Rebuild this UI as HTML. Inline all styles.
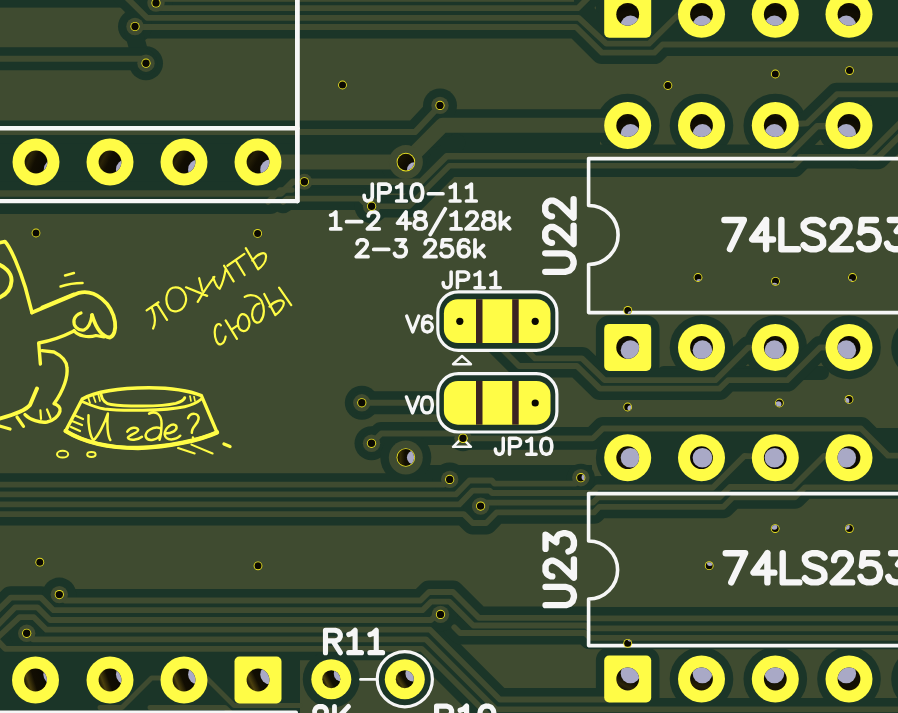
<!DOCTYPE html>
<html><head><meta charset="utf-8"><title>PCB</title>
<style>html,body{margin:0;padding:0;background:#3f4b30;overflow:hidden}svg{display:block}text{font-family:"Liberation Sans",sans-serif}</style>
</head><body>
<svg width="898" height="713" viewBox="0 0 898 713">
<defs><clipPath id="h1"><circle cx="36" cy="162" r="11.4"/></clipPath><linearGradient id="g1" gradientUnits="userSpaceOnUse" x1="46.5089" y1="166.419" x2="25.4911" y2="157.581"><stop offset="0" stop-color="#0b0902"/><stop offset="0.55" stop-color="#120e02"/><stop offset="0.82" stop-color="#2c2508"/><stop offset="1" stop-color="#181303"/></linearGradient><clipPath id="h2"><circle cx="110" cy="162" r="11.4"/></clipPath><linearGradient id="g2" gradientUnits="userSpaceOnUse" x1="120.318" y1="166.848" x2="99.6821" y2="157.152"><stop offset="0" stop-color="#0b0902"/><stop offset="0.55" stop-color="#120e02"/><stop offset="0.82" stop-color="#2a2307"/><stop offset="1" stop-color="#181303"/></linearGradient><clipPath id="h3"><circle cx="184" cy="162" r="11.4"/></clipPath><linearGradient id="g3" gradientUnits="userSpaceOnUse" x1="194.063" y1="167.357" x2="173.937" y2="156.643"><stop offset="0" stop-color="#0b0902"/><stop offset="0.55" stop-color="#120e02"/><stop offset="0.82" stop-color="#272107"/><stop offset="1" stop-color="#181303"/></linearGradient><clipPath id="h4"><circle cx="258" cy="162" r="11.4"/></clipPath><linearGradient id="g4" gradientUnits="userSpaceOnUse" x1="267.714" y1="167.966" x2="248.286" y2="156.034"><stop offset="0" stop-color="#0b0902"/><stop offset="0.55" stop-color="#120e02"/><stop offset="0.82" stop-color="#231d06"/><stop offset="1" stop-color="#181303"/></linearGradient><clipPath id="h5"><circle cx="35.5" cy="680" r="11.4"/></clipPath><linearGradient id="g5" gradientUnits="userSpaceOnUse" x1="46.3729" y1="676.574" x2="24.6271" y2="683.426"><stop offset="0" stop-color="#0b0902"/><stop offset="0.55" stop-color="#120e02"/><stop offset="0.82" stop-color="#4a3e0d"/><stop offset="1" stop-color="#181303"/></linearGradient><clipPath id="h6"><circle cx="110" cy="680" r="11.4"/></clipPath><linearGradient id="g6" gradientUnits="userSpaceOnUse" x1="120.752" y1="676.211" x2="99.248" y2="683.789"><stop offset="0" stop-color="#0b0902"/><stop offset="0.55" stop-color="#120e02"/><stop offset="0.82" stop-color="#4a3f0d"/><stop offset="1" stop-color="#181303"/></linearGradient><clipPath id="h7"><circle cx="184" cy="680" r="11.4"/></clipPath><linearGradient id="g7" gradientUnits="userSpaceOnUse" x1="194.587" y1="675.773" x2="173.413" y2="684.227"><stop offset="0" stop-color="#0b0902"/><stop offset="0.55" stop-color="#120e02"/><stop offset="0.82" stop-color="#4b400d"/><stop offset="1" stop-color="#181303"/></linearGradient><clipPath id="h8"><circle cx="258" cy="680" r="11.4"/></clipPath><linearGradient id="g8" gradientUnits="userSpaceOnUse" x1="268.355" y1="675.231" x2="247.645" y2="684.769"><stop offset="0" stop-color="#0b0902"/><stop offset="0.55" stop-color="#120e02"/><stop offset="0.82" stop-color="#4c400d"/><stop offset="1" stop-color="#181303"/></linearGradient><clipPath id="h9"><circle cx="627.7" cy="14.3" r="11.4"/></clipPath><linearGradient id="g9" gradientUnits="userSpaceOnUse" x1="630.497" y1="25.3515" x2="624.903" y2="3.24848"><stop offset="0" stop-color="#0b0902"/><stop offset="0.55" stop-color="#120e02"/><stop offset="0.82" stop-color="#0b0902"/><stop offset="1" stop-color="#181303"/></linearGradient><clipPath id="h10"><circle cx="701.5" cy="14.3" r="11.4"/></clipPath><linearGradient id="g10" gradientUnits="userSpaceOnUse" x1="702.485" y1="25.6573" x2="700.515" y2="2.94267"><stop offset="0" stop-color="#0b0902"/><stop offset="0.55" stop-color="#120e02"/><stop offset="0.82" stop-color="#0b0902"/><stop offset="1" stop-color="#181303"/></linearGradient><clipPath id="h11"><circle cx="775.3" cy="14.3" r="11.4"/></clipPath><linearGradient id="g11" gradientUnits="userSpaceOnUse" x1="774.396" y1="25.6641" x2="776.204" y2="2.93591"><stop offset="0" stop-color="#0b0902"/><stop offset="0.55" stop-color="#120e02"/><stop offset="0.82" stop-color="#0b0902"/><stop offset="1" stop-color="#181303"/></linearGradient><clipPath id="h12"><circle cx="849" cy="14.3" r="11.4"/></clipPath><linearGradient id="g12" gradientUnits="userSpaceOnUse" x1="846.28" y1="25.3708" x2="851.72" y2="3.22917"><stop offset="0" stop-color="#0b0902"/><stop offset="0.55" stop-color="#120e02"/><stop offset="0.82" stop-color="#0b0902"/><stop offset="1" stop-color="#181303"/></linearGradient><clipPath id="h13"><circle cx="627.7" cy="125.5" r="11.4"/></clipPath><linearGradient id="g13" gradientUnits="userSpaceOnUse" x1="631.348" y1="136.301" x2="624.052" y2="114.699"><stop offset="0" stop-color="#0b0902"/><stop offset="0.55" stop-color="#120e02"/><stop offset="0.82" stop-color="#0b0902"/><stop offset="1" stop-color="#181303"/></linearGradient><clipPath id="h14"><circle cx="701.5" cy="125.5" r="11.4"/></clipPath><linearGradient id="g14" gradientUnits="userSpaceOnUse" x1="702.811" y1="136.824" x2="700.189" y2="114.176"><stop offset="0" stop-color="#0b0902"/><stop offset="0.55" stop-color="#120e02"/><stop offset="0.82" stop-color="#0b0902"/><stop offset="1" stop-color="#181303"/></linearGradient><clipPath id="h15"><circle cx="775.3" cy="125.5" r="11.4"/></clipPath><linearGradient id="g15" gradientUnits="userSpaceOnUse" x1="774.096" y1="136.836" x2="776.504" y2="114.164"><stop offset="0" stop-color="#0b0902"/><stop offset="0.55" stop-color="#120e02"/><stop offset="0.82" stop-color="#0b0902"/><stop offset="1" stop-color="#181303"/></linearGradient><clipPath id="h16"><circle cx="849" cy="125.5" r="11.4"/></clipPath><linearGradient id="g16" gradientUnits="userSpaceOnUse" x1="845.449" y1="136.333" x2="852.551" y2="114.667"><stop offset="0" stop-color="#0b0902"/><stop offset="0.55" stop-color="#120e02"/><stop offset="0.82" stop-color="#0b0902"/><stop offset="1" stop-color="#181303"/></linearGradient><clipPath id="h17"><circle cx="627.7" cy="347.4" r="11.4"/></clipPath><linearGradient id="g17" gradientUnits="userSpaceOnUse" x1="635.822" y1="355.399" x2="619.578" y2="339.401"><stop offset="0" stop-color="#0b0902"/><stop offset="0.55" stop-color="#120e02"/><stop offset="0.82" stop-color="#0e0c02"/><stop offset="1" stop-color="#181303"/></linearGradient><clipPath id="h18"><circle cx="701.5" cy="347.4" r="11.4"/></clipPath><linearGradient id="g18" gradientUnits="userSpaceOnUse" x1="705.248" y1="358.166" x2="697.752" y2="336.634"><stop offset="0" stop-color="#0b0902"/><stop offset="0.55" stop-color="#120e02"/><stop offset="0.82" stop-color="#0b0902"/><stop offset="1" stop-color="#181303"/></linearGradient><clipPath id="h19"><circle cx="775.3" cy="347.4" r="11.4"/></clipPath><linearGradient id="g19" gradientUnits="userSpaceOnUse" x1="771.834" y1="358.26" x2="778.766" y2="336.54"><stop offset="0" stop-color="#0b0902"/><stop offset="0.55" stop-color="#120e02"/><stop offset="0.82" stop-color="#0b0902"/><stop offset="1" stop-color="#181303"/></linearGradient><clipPath id="h20"><circle cx="849" cy="347.4" r="11.4"/></clipPath><linearGradient id="g20" gradientUnits="userSpaceOnUse" x1="840.998" y1="355.52" x2="857.002" y2="339.28"><stop offset="0" stop-color="#0b0902"/><stop offset="0.55" stop-color="#120e02"/><stop offset="0.82" stop-color="#0b0902"/><stop offset="1" stop-color="#181303"/></linearGradient><clipPath id="h21"><circle cx="627.7" cy="457.7" r="11.4"/></clipPath><linearGradient id="g21" gradientUnits="userSpaceOnUse" x1="639.1" y1="457.73" x2="616.3" y2="457.67"><stop offset="0" stop-color="#0b0902"/><stop offset="0.55" stop-color="#120e02"/><stop offset="0.82" stop-color="#181404"/><stop offset="1" stop-color="#181303"/></linearGradient><clipPath id="h22"><circle cx="701.5" cy="457.7" r="11.4"/></clipPath><clipPath id="h23"><circle cx="775.3" cy="457.7" r="11.4"/></clipPath><clipPath id="h24"><circle cx="849" cy="457.7" r="11.4"/></clipPath><linearGradient id="g24" gradientUnits="userSpaceOnUse" x1="837.6" y1="457.731" x2="860.4" y2="457.669"><stop offset="0" stop-color="#0b0902"/><stop offset="0.55" stop-color="#120e02"/><stop offset="0.82" stop-color="#0b0902"/><stop offset="1" stop-color="#181303"/></linearGradient><clipPath id="h25"><circle cx="627.7" cy="679" r="11.4"/></clipPath><linearGradient id="g25" gradientUnits="userSpaceOnUse" x1="632.864" y1="668.837" x2="622.536" y2="689.163"><stop offset="0" stop-color="#0b0902"/><stop offset="0.55" stop-color="#120e02"/><stop offset="0.82" stop-color="#2c2508"/><stop offset="1" stop-color="#181303"/></linearGradient><clipPath id="h26"><circle cx="701.5" cy="679" r="11.4"/></clipPath><linearGradient id="g26" gradientUnits="userSpaceOnUse" x1="703.457" y1="667.769" x2="699.543" y2="690.231"><stop offset="0" stop-color="#0b0902"/><stop offset="0.55" stop-color="#120e02"/><stop offset="0.82" stop-color="#231e06"/><stop offset="1" stop-color="#181303"/></linearGradient><clipPath id="h27"><circle cx="775.3" cy="679" r="11.4"/></clipPath><linearGradient id="g27" gradientUnits="userSpaceOnUse" x1="773.502" y1="667.743" x2="777.098" y2="690.257"><stop offset="0" stop-color="#0b0902"/><stop offset="0.55" stop-color="#120e02"/><stop offset="0.82" stop-color="#1a1604"/><stop offset="1" stop-color="#181303"/></linearGradient><clipPath id="h28"><circle cx="849" cy="679" r="11.4"/></clipPath><linearGradient id="g28" gradientUnits="userSpaceOnUse" x1="843.957" y1="668.776" x2="854.043" y2="689.224"><stop offset="0" stop-color="#0b0902"/><stop offset="0.55" stop-color="#120e02"/><stop offset="0.82" stop-color="#110e03"/><stop offset="1" stop-color="#181303"/></linearGradient><clipPath id="h29"><circle cx="156" cy="3" r="3.7"/></clipPath><clipPath id="h30"><circle cx="135" cy="26.5" r="3.7"/></clipPath><clipPath id="h31"><circle cx="146" cy="63.2" r="3.7"/></clipPath><clipPath id="h32"><circle cx="405.9" cy="162.1" r="8.4"/></clipPath><linearGradient id="g32" gradientUnits="userSpaceOnUse" x1="412.188" y1="167.669" x2="399.612" y2="156.531"><stop offset="0" stop-color="#0b0902"/><stop offset="0.55" stop-color="#120e02"/><stop offset="0.82" stop-color="#181404"/><stop offset="1" stop-color="#181303"/></linearGradient><clipPath id="h33"><circle cx="440" cy="105.4" r="3.7"/></clipPath><clipPath id="h34"><circle cx="304.4" cy="181.8" r="3.7"/></clipPath><clipPath id="h35"><circle cx="371.6" cy="206.2" r="3.7"/></clipPath><clipPath id="h36"><circle cx="449.7" cy="479.4" r="3.7"/></clipPath><clipPath id="h37"><circle cx="480.6" cy="506.1" r="3.7"/></clipPath><clipPath id="h38"><circle cx="59.3" cy="594.6" r="3.7"/></clipPath><clipPath id="h39"><circle cx="26.7" cy="633.3" r="3.7"/></clipPath><clipPath id="h40"><circle cx="440.5" cy="614.4" r="3.7"/></clipPath><clipPath id="h41"><circle cx="361.8" cy="402.8" r="3.7"/></clipPath><clipPath id="h42"><circle cx="371.5" cy="443.3" r="3.7"/></clipPath><clipPath id="h43"><circle cx="463" cy="438.3" r="3.7"/></clipPath><clipPath id="h44"><circle cx="405.8" cy="457.5" r="8.4"/></clipPath><linearGradient id="g44" gradientUnits="userSpaceOnUse" x1="414.2" y1="457.513" x2="397.4" y2="457.487"><stop offset="0" stop-color="#0b0902"/><stop offset="0.55" stop-color="#120e02"/><stop offset="0.82" stop-color="#332b09"/><stop offset="1" stop-color="#181303"/></linearGradient><clipPath id="h45"><circle cx="580.8" cy="477.7" r="3.7"/></clipPath><clipPath id="h46"><circle cx="36" cy="233" r="3.5"/></clipPath><clipPath id="h47"><circle cx="257.6" cy="233.4" r="3.5"/></clipPath><clipPath id="h48"><circle cx="342.5" cy="85" r="3.5"/></clipPath><clipPath id="h49"><circle cx="667.9" cy="85.5" r="3.5"/></clipPath><clipPath id="h50"><circle cx="775.3" cy="74" r="3.5"/></clipPath><clipPath id="h51"><circle cx="849.5" cy="70.6" r="3.5"/></clipPath><clipPath id="h52"><circle cx="698" cy="277.5" r="3.5"/></clipPath><clipPath id="h53"><circle cx="775.5" cy="281.3" r="3.5"/></clipPath><clipPath id="h54"><circle cx="852.5" cy="277.5" r="3.5"/></clipPath><clipPath id="h55"><circle cx="627.8" cy="310.4" r="3.5"/></clipPath><clipPath id="h56"><circle cx="627.7" cy="407" r="3.5"/></clipPath><clipPath id="h57"><circle cx="779.4" cy="403" r="3.5"/></clipPath><clipPath id="h58"><circle cx="849" cy="399.4" r="3.5"/></clipPath><clipPath id="h59"><circle cx="39.8" cy="562.2" r="3.5"/></clipPath><clipPath id="h60"><circle cx="258" cy="565.8" r="3.5"/></clipPath><clipPath id="h61"><circle cx="627.7" cy="643.3" r="3.5"/></clipPath><clipPath id="h62"><circle cx="709.2" cy="565.7" r="3.5"/></clipPath><clipPath id="h63"><circle cx="775.2" cy="528.6" r="3.5"/></clipPath><clipPath id="h64"><circle cx="849.4" cy="528.6" r="3.5"/></clipPath><clipPath id="h65"><circle cx="331.3" cy="679.2" r="9"/></clipPath><linearGradient id="g65" gradientUnits="userSpaceOnUse" x1="339.215" y1="674.916" x2="323.385" y2="683.484"><stop offset="0" stop-color="#0b0902"/><stop offset="0.55" stop-color="#120e02"/><stop offset="0.82" stop-color="#4d410d"/><stop offset="1" stop-color="#181303"/></linearGradient><clipPath id="h66"><circle cx="404.8" cy="679.2" r="9"/></clipPath><linearGradient id="g66" gradientUnits="userSpaceOnUse" x1="412.312" y1="674.243" x2="397.288" y2="684.157"><stop offset="0" stop-color="#0b0902"/><stop offset="0.55" stop-color="#120e02"/><stop offset="0.82" stop-color="#483c0c"/><stop offset="1" stop-color="#181303"/></linearGradient></defs>
<rect width="898" height="713" fill="#3f4b30"/>
<g fill="none" stroke="#1b3528" stroke-linecap="round" stroke-linejoin="round">
<circle cx="36" cy="162" r="31.8" fill="#1b3528" stroke="none"/>
<circle cx="110" cy="162" r="31.8" fill="#1b3528" stroke="none"/>
<circle cx="184" cy="162" r="31.8" fill="#1b3528" stroke="none"/>
<circle cx="258" cy="162" r="31.8" fill="#1b3528" stroke="none"/>
<circle cx="35.5" cy="680" r="31.8" fill="#1b3528" stroke="none"/>
<circle cx="110" cy="680" r="31.8" fill="#1b3528" stroke="none"/>
<circle cx="184" cy="680" r="31.8" fill="#1b3528" stroke="none"/>
<rect x="226.2" y="648.2" width="63.6" height="63.6" rx="13.3" fill="#1b3528" stroke="none"/>
<rect x="595.9" y="-17.5" width="63.6" height="63.6" rx="13.3" fill="#1b3528" stroke="none"/>
<circle cx="701.5" cy="14.3" r="31.8" fill="#1b3528" stroke="none"/>
<circle cx="775.3" cy="14.3" r="31.8" fill="#1b3528" stroke="none"/>
<circle cx="849" cy="14.3" r="31.8" fill="#1b3528" stroke="none"/>
<circle cx="923" cy="14.3" r="31.8" fill="#1b3528" stroke="none"/>
<circle cx="627.7" cy="125.5" r="31.8" fill="#1b3528" stroke="none"/>
<circle cx="701.5" cy="125.5" r="31.8" fill="#1b3528" stroke="none"/>
<circle cx="775.3" cy="125.5" r="31.8" fill="#1b3528" stroke="none"/>
<circle cx="849" cy="125.5" r="31.8" fill="#1b3528" stroke="none"/>
<circle cx="923" cy="125.5" r="31.8" fill="#1b3528" stroke="none"/>
<rect x="595.9" y="315.6" width="63.6" height="63.6" rx="13.3" fill="#1b3528" stroke="none"/>
<circle cx="701.5" cy="347.4" r="31.8" fill="#1b3528" stroke="none"/>
<circle cx="775.3" cy="347.4" r="31.8" fill="#1b3528" stroke="none"/>
<circle cx="849" cy="347.4" r="31.8" fill="#1b3528" stroke="none"/>
<circle cx="923" cy="347.4" r="31.8" fill="#1b3528" stroke="none"/>
<circle cx="627.7" cy="457.7" r="31.8" fill="#1b3528" stroke="none"/>
<circle cx="701.5" cy="457.7" r="31.8" fill="#1b3528" stroke="none"/>
<circle cx="775.3" cy="457.7" r="31.8" fill="#1b3528" stroke="none"/>
<circle cx="849" cy="457.7" r="31.8" fill="#1b3528" stroke="none"/>
<circle cx="923" cy="457.7" r="31.8" fill="#1b3528" stroke="none"/>
<rect x="595.9" y="647.2" width="63.6" height="63.6" rx="13.3" fill="#1b3528" stroke="none"/>
<circle cx="701.5" cy="679" r="31.8" fill="#1b3528" stroke="none"/>
<circle cx="775.3" cy="679" r="31.8" fill="#1b3528" stroke="none"/>
<circle cx="849" cy="679" r="31.8" fill="#1b3528" stroke="none"/>
<circle cx="923" cy="679" r="31.8" fill="#1b3528" stroke="none"/>
<rect x="0" y="-5" width="124" height="12.6" fill="#1b3528" stroke="none"/>
<path d="M156,3 L161,8.2 L577.8,8.2 L592,-6" stroke-width="22.8"/>
<path d="M115,-14 L147,17.8 L578.7,17.8 L606.3,43.6 L649,43.6 L680,13" stroke-width="22.8"/>
<path d="M135,26.5 L136,27 L576,27 L601.9,52.6 L654.4,52.6 L662.5,44.5 L900,44.5" stroke-width="22.8"/>
<circle cx="156" cy="3" r="17" fill="#1b3528" stroke="none"/>
<circle cx="135" cy="26.5" r="17" fill="#1b3528" stroke="none"/>
<circle cx="146" cy="63.2" r="17" fill="#1b3528" stroke="none"/>
<path d="M133,30 L140,55" stroke-width="18"/>
<path d="M146,63.2 L141.5,58.7 L-5,58.7" stroke-width="23"/>
<path d="M585,8 L600,25" stroke-width="14"/>
<rect x="600" y="-5" width="298" height="61" fill="#1b3528" stroke="none"/>
<rect x="0" y="130" width="297" height="75" fill="#1b3528" stroke="none"/>
<path d="M-5,193.5 L281,193.5 L292.7,181.8 L421,181.8 L446.6,156.2 L787,156.2 L817,126.2 L849,125.5" stroke-width="23.5"/>
<path d="M-5,202 L270,202" stroke-width="24"/>
<path d="M283,202 L287,198.6 L360,198.6 L367.6,206.2 L371.6,206.2" stroke-width="22.6"/>
<path d="M258,162 L406,162 L442.5,125.2 L627,125.2" stroke-width="32"/>
<circle cx="405.9" cy="162.1" r="25.5" fill="#1b3528" stroke="none"/>
<path d="M-5,132.1 L415,132.1 L440,105.4" stroke-width="23"/>
<circle cx="440" cy="105.4" r="17" fill="#1b3528" stroke="none"/>
<circle cx="304.4" cy="181.8" r="0.1" fill="#1b3528" stroke="none"/>
<path d="M300,145 L425,145 L450,140" stroke-width="8"/>
<rect x="452" y="133" width="148" height="19.7" fill="#1b3528" stroke="none"/>
<path d="M456,143 L436,163" stroke-width="19"/>
<path d="M371.6,206.2 L409,206.2 L449.4,165.8 L794,165.8 L802,158" stroke-width="22.6"/>
<circle cx="371.6" cy="206.2" r="17" fill="#1b3528" stroke="none"/>
<path d="M900,94.3 L836.8,94.3 L806.9,123.3 L775,125.5" stroke-width="23"/>
<path d="M905,118 L866,157 L800,157" stroke-width="23"/>
<path d="M905,130.7 L878,157.7 L860,157.7" stroke-width="23"/>
<path d="M806,150 L826,150" stroke-width="10"/>
<rect x="872" y="94" width="33" height="46" fill="#1b3528" stroke="none"/>
<path d="M-5,484.6 L444,484.6 L449.7,479.4" stroke-width="22.8"/>
<path d="M-5,494.4 L455.9,494.4 L469.4,480.5 L491.8,480.5 L494.5,483.6 L575,483.6 L580.8,477.7" stroke-width="22.8"/>
<path d="M-5,504.4 L459.3,504.4 L472.7,490.6 L489.6,490.6 L492,493 L592,493 L597.4,487.5 L712.9,487.5 L744.5,455.9 L775.3,457.7" stroke-width="22.8"/>
<path d="M480.6,506.1 L484.5,502.6 L593,502.6 L598.3,497.4 L719.5,497.4 L729.9,487 L793,487 L824,456 L849,457.7" stroke-width="22.8"/>
<path d="M-5,514.1 L463.8,514.1 L472.7,523 L486.2,523 L496.5,512.4 L594,512.4 L599.3,506.8 L723.5,506.8 L733,497.3 L795,497.3 L805,487.3 L905,487.3" stroke-width="22.8"/>
<circle cx="449.7" cy="479.4" r="17" fill="#1b3528" stroke="none"/>
<circle cx="480.6" cy="506.1" r="17" fill="#1b3528" stroke="none"/>
<rect x="423" y="465" width="169" height="13" fill="#1b3528" stroke="none"/>
<path d="M59.3,594.6 L65,600.5 L420.5,600.5 L429,592 L453,592 L478.8,617.8 L586,617.8 L588,618.4 L905,618.4" stroke-width="22.8"/>
<path d="M-5,613 L10.7,597.6 L41,597.6 L53.5,610.2 L422.5,610.2 L431,601.7 L449.5,601.7 L473.3,625.5 L586,625.5 L589,628.4 L905,628.4" stroke-width="22.8"/>
<path d="M-5,628 L15,607.4 L37.4,607.4 L50,620 L431,620 L436,615 L440.5,614.4" stroke-width="22.8"/>
<path d="M-5,640 L19.6,617.2 L33.9,617.2 L46.4,629.7 L430,629.7 L499.8,699.5 L612,699.5" stroke-width="22.8"/>
<path d="M26.7,633.3 L33,639.4 L426,639.4 L496,709.4 L905,709.4" stroke-width="22.8"/>
<path d="M-5,638 L5.3,648.8 L421.7,648.8 L490,717" stroke-width="22.8"/>
<path d="M454.3,627.3 L460,633 L585,633 L590,637.8 L905,637.8" stroke-width="22.8"/>
<circle cx="59.3" cy="594.6" r="17" fill="#1b3528" stroke="none"/>
<circle cx="26.7" cy="633.3" r="17" fill="#1b3528" stroke="none"/>
<circle cx="440.5" cy="614.4" r="17" fill="#1b3528" stroke="none"/>
<rect x="0" y="655" width="300" height="65" fill="#1b3528" stroke="none"/>
<circle cx="361.8" cy="402.8" r="17" fill="#1b3528" stroke="none"/>
<path d="M361.8,402.8 L450,402.8" stroke-width="23"/>
<circle cx="371.5" cy="443.3" r="17" fill="#1b3528" stroke="none"/>
<path d="M371.5,443.3 L381.3,433.5 L458,433.5 L463,438.3 L593,438.3 L603,428.5 L861,428.5 L888,455.6 L905,455.6" stroke-width="22.8"/>
<circle cx="463" cy="438.3" r="13" fill="#1b3528" stroke="none"/>
<circle cx="405.8" cy="457.5" r="25.5" fill="#1b3528" stroke="none"/>
<circle cx="580.8" cy="477.7" r="14" fill="#1b3528" stroke="none"/>
<rect x="612" y="428" width="293" height="54" fill="#1b3528" stroke="none"/>
<path d="M664,373 L822,373" stroke-width="14"/>
<path d="M520,343 L535,358.4 L582,358.4 L604.6,380.2 L715.5,380.2 L748,347.7 L775,347.4" stroke-width="22.8"/>
<path d="M496,343 L519,366 L577,366 L600,388.6 L719.5,388.6 L728,380.2 L787.3,380.2 L820,347.5 L849,347.4" stroke-width="22.8"/>
<rect x="436.2" y="290.3" width="122.3" height="61.6" rx="22" fill="#1b3528" stroke="none"/>
<rect x="436.2" y="372" width="122.3" height="61.6" rx="22" fill="#1b3528" stroke="none"/>
<circle cx="331.3" cy="679.2" r="28.5" fill="#1b3528" stroke="none"/>
<circle cx="404.8" cy="679.2" r="28.5" fill="#1b3528" stroke="none"/>
</g>
<g fill="none" stroke="#3f4b30" stroke-linecap="round" stroke-linejoin="round">
<path d="M156,3 L161,8.2 L577.8,8.2 L592,-6" stroke-width="5.8"/>
<path d="M115,-14 L147,17.8 L578.7,17.8 L606.3,43.6 L649,43.6 L680,13" stroke-width="5.8"/>
<path d="M135,26.5 L136,27 L576,27 L601.9,52.6 L654.4,52.6 L662.5,44.5 L900,44.5" stroke-width="5.8"/>
<circle cx="156" cy="3" r="8.7" fill="#3f4b30" stroke="none"/>
<circle cx="135" cy="26.5" r="8.7" fill="#3f4b30" stroke="none"/>
<circle cx="146" cy="63.2" r="8.7" fill="#3f4b30" stroke="none"/>
<path d="M146,63.2 L141.5,58.7 L-5,58.7" stroke-width="6"/>
<rect x="162" y="-3" width="412" height="4.8" fill="#3f4b30" stroke="none"/>
<path d="M-5,193.5 L281,193.5 L292.7,181.8 L421,181.8 L446.6,156.2 L787,156.2 L817,126.2 L849,125.5" stroke-width="6.5"/>
<path d="M283,202 L287,198.6 L360,198.6 L367.6,206.2 L371.6,206.2" stroke-width="5.6"/>
<path d="M268,202 L280,190 L292,190" stroke-width="5.5"/>
<path d="M258,162 L406,162 L442.5,125.2 L627,125.2" stroke-width="15"/>
<circle cx="405.9" cy="162.1" r="17" fill="#3f4b30" stroke="none"/>
<path d="M-5,132.1 L415,132.1 L440,105.4" stroke-width="6"/>
<circle cx="440" cy="105.4" r="8.7" fill="#3f4b30" stroke="none"/>
<circle cx="304.4" cy="181.8" r="8" fill="#3f4b30" stroke="none"/>
<path d="M371.6,206.2 L409,206.2 L449.4,165.8 L794,165.8 L802,158" stroke-width="5.6"/>
<circle cx="371.6" cy="206.2" r="8.7" fill="#3f4b30" stroke="none"/>
<path d="M900,94.3 L836.8,94.3 L806.9,123.3 L775,125.5" stroke-width="6"/>
<path d="M905,118 L866,157 L800,157" stroke-width="6"/>
<path d="M905,130.7 L878,157.7 L860,157.7" stroke-width="6"/>
<path d="M-5,484.6 L444,484.6 L449.7,479.4" stroke-width="5.8"/>
<path d="M-5,494.4 L455.9,494.4 L469.4,480.5 L491.8,480.5 L494.5,483.6 L575,483.6 L580.8,477.7" stroke-width="5.8"/>
<path d="M-5,504.4 L459.3,504.4 L472.7,490.6 L489.6,490.6 L492,493 L592,493 L597.4,487.5 L712.9,487.5 L744.5,455.9 L775.3,457.7" stroke-width="5.8"/>
<path d="M480.6,506.1 L484.5,502.6 L593,502.6 L598.3,497.4 L719.5,497.4 L729.9,487 L793,487 L824,456 L849,457.7" stroke-width="5.8"/>
<path d="M-5,514.1 L463.8,514.1 L472.7,523 L486.2,523 L496.5,512.4 L594,512.4 L599.3,506.8 L723.5,506.8 L733,497.3 L795,497.3 L805,487.3 L905,487.3" stroke-width="5.8"/>
<circle cx="449.7" cy="479.4" r="8.7" fill="#3f4b30" stroke="none"/>
<circle cx="480.6" cy="506.1" r="8.7" fill="#3f4b30" stroke="none"/>
<path d="M59.3,594.6 L65,600.5 L420.5,600.5 L429,592 L453,592 L478.8,617.8 L586,617.8 L588,618.4 L905,618.4" stroke-width="5.8"/>
<path d="M-5,613 L10.7,597.6 L41,597.6 L53.5,610.2 L422.5,610.2 L431,601.7 L449.5,601.7 L473.3,625.5 L586,625.5 L589,628.4 L905,628.4" stroke-width="5.8"/>
<path d="M-5,628 L15,607.4 L37.4,607.4 L50,620 L431,620 L436,615 L440.5,614.4" stroke-width="5.8"/>
<path d="M-5,640 L19.6,617.2 L33.9,617.2 L46.4,629.7 L430,629.7 L499.8,699.5 L612,699.5" stroke-width="5.8"/>
<path d="M26.7,633.3 L33,639.4 L426,639.4 L496,709.4 L905,709.4" stroke-width="5.8"/>
<path d="M-5,638 L5.3,648.8 L421.7,648.8 L490,717" stroke-width="5.8"/>
<path d="M454.3,627.3 L460,633 L585,633 L590,637.8 L905,637.8" stroke-width="5.8"/>
<circle cx="59.3" cy="594.6" r="8.7" fill="#3f4b30" stroke="none"/>
<circle cx="26.7" cy="633.3" r="8.7" fill="#3f4b30" stroke="none"/>
<circle cx="440.5" cy="614.4" r="8.7" fill="#3f4b30" stroke="none"/>
<path d="M184,679 L207,678.5 L234,705.5 L300,705.5" stroke-width="5"/>
<path d="M150,707.4 L225,707.4 L232,714" stroke-width="5"/>
<path d="M160,678 L151.5,678 L122,707.5 L100,707.5" stroke-width="5"/>
<circle cx="361.8" cy="402.8" r="8.7" fill="#3f4b30" stroke="none"/>
<path d="M361.8,402.8 L450,402.8" stroke-width="6"/>
<circle cx="371.5" cy="443.3" r="8.7" fill="#3f4b30" stroke="none"/>
<path d="M371.5,443.3 L381.3,433.5 L458,433.5 L463,438.3 L593,438.3 L603,428.5 L861,428.5 L888,455.6 L905,455.6" stroke-width="5.8"/>
<circle cx="463" cy="438.3" r="8.7" fill="#3f4b30" stroke="none"/>
<circle cx="405.8" cy="457.5" r="17" fill="#3f4b30" stroke="none"/>
<circle cx="580.8" cy="477.7" r="8.7" fill="#3f4b30" stroke="none"/>
<path d="M520,343 L535,358.4 L582,358.4 L604.6,380.2 L715.5,380.2 L748,347.7 L775,347.4" stroke-width="5.8"/>
<path d="M496,343 L519,366 L577,366 L600,388.6 L719.5,388.6 L728,380.2 L787.3,380.2 L820,347.5 L849,347.4" stroke-width="5.8"/>
</g>
<g>
<circle cx="36" cy="162" r="23.5" fill="#fffc46"/>
<circle cx="110" cy="162" r="23.5" fill="#fffc46"/>
<circle cx="184" cy="162" r="23.5" fill="#fffc46"/>
<circle cx="258" cy="162" r="23.5" fill="#fffc46"/>
<circle cx="35.5" cy="680" r="23.5" fill="#fffc46"/>
<circle cx="110" cy="680" r="23.5" fill="#fffc46"/>
<circle cx="184" cy="680" r="23.5" fill="#fffc46"/>
<rect x="234.5" y="656.5" width="47" height="47" rx="5" fill="#fffc46"/>
<rect x="604.2" y="-9.2" width="47" height="47" rx="5" fill="#fffc46"/>
<circle cx="701.5" cy="14.3" r="23.5" fill="#fffc46"/>
<circle cx="775.3" cy="14.3" r="23.5" fill="#fffc46"/>
<circle cx="849" cy="14.3" r="23.5" fill="#fffc46"/>
<circle cx="627.7" cy="125.5" r="23.5" fill="#fffc46"/>
<circle cx="701.5" cy="125.5" r="23.5" fill="#fffc46"/>
<circle cx="775.3" cy="125.5" r="23.5" fill="#fffc46"/>
<circle cx="849" cy="125.5" r="23.5" fill="#fffc46"/>
<rect x="604.2" y="323.9" width="47" height="47" rx="5" fill="#fffc46"/>
<circle cx="701.5" cy="347.4" r="23.5" fill="#fffc46"/>
<circle cx="775.3" cy="347.4" r="23.5" fill="#fffc46"/>
<circle cx="849" cy="347.4" r="23.5" fill="#fffc46"/>
<circle cx="627.7" cy="457.7" r="23.5" fill="#fffc46"/>
<circle cx="701.5" cy="457.7" r="23.5" fill="#fffc46"/>
<circle cx="775.3" cy="457.7" r="23.5" fill="#fffc46"/>
<circle cx="849" cy="457.7" r="23.5" fill="#fffc46"/>
<rect x="604.2" y="655.5" width="47" height="47" rx="5" fill="#fffc46"/>
<circle cx="701.5" cy="679" r="23.5" fill="#fffc46"/>
<circle cx="775.3" cy="679" r="23.5" fill="#fffc46"/>
<circle cx="849" cy="679" r="23.5" fill="#fffc46"/>
<circle cx="331.3" cy="679.2" r="20" fill="#fffc46"/>
<circle cx="404.8" cy="679.2" r="20" fill="#fffc46"/>
</g>
<g>
<path d="M-5,128.2 L297.4,128.2" fill="none" stroke="#f6f6f6" stroke-width="4.6" stroke-linecap="round" stroke-linejoin="round"/>
<path d="M297.4,-5 L297.4,201" fill="none" stroke="#f6f6f6" stroke-width="4.8" stroke-linecap="round" stroke-linejoin="round"/>
<path d="M-5,201.2 L297.4,201.2" fill="none" stroke="#f6f6f6" stroke-width="4.2" stroke-linecap="round" stroke-linejoin="round"/>
<path d="M-5,712.5 L296,712.5" fill="none" stroke="#f6f6f6" stroke-width="4" stroke-linecap="round" stroke-linejoin="round"/>
<path d="M905,158.6 L588.6,158.6 L588.6,205.5 A29.5,29.5 0 0 1 588.6,264.5 L588.6,312.6 L905,312.6" fill="none" stroke="#f6f6f6" stroke-width="3.6" stroke-linejoin="round"/>
<path d="M905,493.6 L588.6,493.6 L588.6,541 A29,29 0 0 1 588.6,599 L588.6,645.6 L905,645.6" fill="none" stroke="#f6f6f6" stroke-width="3.6" stroke-linejoin="round"/>
<path d="M4.17,-29.19 L23.63,-29.19 L9.73,0.00 M45.87,-29.19 L31.97,-9.73 L52.82,-9.73 M45.87,-29.19 L45.87,0.00 M61.16,-29.19 L61.16,0.00 L77.84,0.00 M102.86,-25.02 L100.08,-27.80 L95.91,-29.19 L90.35,-29.19 L86.18,-27.80 L83.40,-25.02 L83.40,-22.24 L84.79,-19.46 L86.18,-18.07 L88.96,-16.68 L97.30,-13.90 L100.08,-12.51 L101.47,-11.12 L102.86,-8.34 L102.86,-4.17 L100.08,-1.39 L95.91,0.00 L90.35,0.00 L86.18,-1.39 L83.40,-4.17 M112.59,-22.24 L112.59,-23.63 L113.98,-26.41 L115.37,-27.80 L118.15,-29.19 L123.71,-29.19 L126.49,-27.80 L127.88,-26.41 L129.27,-23.63 L129.27,-20.85 L127.88,-18.07 L125.10,-13.90 L111.20,0.00 L130.66,0.00 M155.68,-29.19 L141.78,-29.19 L140.39,-16.68 L141.78,-18.07 L145.95,-19.46 L150.12,-19.46 L154.29,-18.07 L157.07,-15.29 L158.46,-11.12 L158.46,-8.34 L157.07,-4.17 L154.29,-1.39 L150.12,0.00 L145.95,0.00 L141.78,-1.39 L140.39,-2.78 L139.00,-5.56 M169.58,-29.19 L184.87,-29.19 L176.53,-18.07 L180.70,-18.07 L183.48,-16.68 L184.87,-15.29 L186.26,-11.12 L186.26,-8.34 L184.87,-4.17 L182.09,-1.39 L177.92,0.00 L173.75,0.00 L169.58,-1.39 L168.19,-2.78 L166.80,-5.56" transform="translate(720.23 249.20)" fill="none" stroke="#f6f6f6" stroke-width="6.4" stroke-linecap="round" stroke-linejoin="round"/>
<path d="M4.17,-29.19 L23.63,-29.19 L9.73,0.00 M45.87,-29.19 L31.97,-9.73 L52.82,-9.73 M45.87,-29.19 L45.87,0.00 M61.16,-29.19 L61.16,0.00 L77.84,0.00 M102.86,-25.02 L100.08,-27.80 L95.91,-29.19 L90.35,-29.19 L86.18,-27.80 L83.40,-25.02 L83.40,-22.24 L84.79,-19.46 L86.18,-18.07 L88.96,-16.68 L97.30,-13.90 L100.08,-12.51 L101.47,-11.12 L102.86,-8.34 L102.86,-4.17 L100.08,-1.39 L95.91,0.00 L90.35,0.00 L86.18,-1.39 L83.40,-4.17 M112.59,-22.24 L112.59,-23.63 L113.98,-26.41 L115.37,-27.80 L118.15,-29.19 L123.71,-29.19 L126.49,-27.80 L127.88,-26.41 L129.27,-23.63 L129.27,-20.85 L127.88,-18.07 L125.10,-13.90 L111.20,0.00 L130.66,0.00 M155.68,-29.19 L141.78,-29.19 L140.39,-16.68 L141.78,-18.07 L145.95,-19.46 L150.12,-19.46 L154.29,-18.07 L157.07,-15.29 L158.46,-11.12 L158.46,-8.34 L157.07,-4.17 L154.29,-1.39 L150.12,0.00 L145.95,0.00 L141.78,-1.39 L140.39,-2.78 L139.00,-5.56 M169.58,-29.19 L184.87,-29.19 L176.53,-18.07 L180.70,-18.07 L183.48,-16.68 L184.87,-15.29 L186.26,-11.12 L186.26,-8.34 L184.87,-4.17 L182.09,-1.39 L177.92,0.00 L173.75,0.00 L169.58,-1.39 L168.19,-2.78 L166.80,-5.56" transform="translate(721.53 582.40)" fill="none" stroke="#f6f6f6" stroke-width="6.4" stroke-linecap="round" stroke-linejoin="round"/>
<path d="M5.40,-28.35 L5.40,-8.10 L6.75,-4.05 L9.45,-1.35 L13.50,0.00 L16.20,0.00 L20.25,-1.35 L22.95,-4.05 L24.30,-8.10 L24.30,-28.35 M35.10,-21.60 L35.10,-22.95 L36.45,-25.65 L37.80,-27.00 L40.50,-28.35 L45.90,-28.35 L48.60,-27.00 L49.95,-25.65 L51.30,-22.95 L51.30,-20.25 L49.95,-17.55 L47.25,-13.50 L33.75,0.00 L52.65,0.00 M62.10,-21.60 L62.10,-22.95 L63.45,-25.65 L64.80,-27.00 L67.50,-28.35 L72.90,-28.35 L75.60,-27.00 L76.95,-25.65 L78.30,-22.95 L78.30,-20.25 L76.95,-17.55 L74.25,-13.50 L60.75,0.00 L79.65,0.00" transform="rotate(-90 573.6 275) translate(571.52 275.00) scale(0.977778 1)" fill="none" stroke="#f6f6f6" stroke-width="6.4" stroke-linecap="round" stroke-linejoin="round"/>
<path d="M5.40,-28.35 L5.40,-8.10 L6.75,-4.05 L9.45,-1.35 L13.50,0.00 L16.20,0.00 L20.25,-1.35 L22.95,-4.05 L24.30,-8.10 L24.30,-28.35 M35.10,-21.60 L35.10,-22.95 L36.45,-25.65 L37.80,-27.00 L40.50,-28.35 L45.90,-28.35 L48.60,-27.00 L49.95,-25.65 L51.30,-22.95 L51.30,-20.25 L49.95,-17.55 L47.25,-13.50 L33.75,0.00 L52.65,0.00 M63.45,-28.35 L78.30,-28.35 L70.20,-17.55 L74.25,-17.55 L76.95,-16.20 L78.30,-14.85 L79.65,-10.80 L79.65,-8.10 L78.30,-4.05 L75.60,-1.35 L71.55,0.00 L67.50,0.00 L63.45,-1.35 L62.10,-2.70 L60.75,-5.40" transform="rotate(-90 573.9 608.4) translate(571.86 608.40) scale(0.969697 1)" fill="none" stroke="#f6f6f6" stroke-width="6.4" stroke-linecap="round" stroke-linejoin="round"/>
<path d="M9.66,-16.91 L9.66,-4.03 L8.86,-1.61 L8.05,-0.81 L6.44,0.00 L4.83,0.00 L3.22,-0.81 L2.42,-1.61 L1.61,-4.03 L1.61,-5.64 M16.10,0.00 L16.10,-16.91 L23.34,-16.91 L25.76,-16.10 L26.57,-15.30 L27.37,-13.69 L27.37,-11.27 L26.57,-9.66 L25.76,-8.86 L23.34,-8.05 L16.10,-8.05 M33.81,-13.69 L36.23,-14.49 L38.64,-16.91 L38.64,0.00 M33.81,0.00 L43.47,0.00 M53.13,-16.91 L50.72,-16.10 L49.11,-13.69 L48.30,-9.66 L48.30,-7.25 L49.11,-3.22 L50.72,-0.81 L53.13,0.00 L54.74,0.00 L57.16,-0.81 L58.77,-3.22 L59.57,-7.25 L59.57,-9.66 L58.77,-13.69 L57.16,-16.10 L54.74,-16.91 L53.13,-16.91 M65.21,-7.25 L79.70,-7.25 M86.94,-13.69 L89.36,-14.49 L91.77,-16.91 L91.77,0.00 M86.94,0.00 L96.60,0.00 M103.04,-13.69 L105.46,-14.49 L107.87,-16.91 L107.87,0.00 M103.04,0.00 L112.70,0.00" transform="translate(362.53 201.00) scale(1.00909 1)" fill="none" stroke="#f6f6f6" stroke-width="3.7" stroke-linecap="round" stroke-linejoin="round"/>
<path d="M4.03,-13.69 L6.44,-14.49 L8.86,-16.91 L8.86,0.00 M4.03,0.00 L13.69,0.00 M19.32,-7.25 L33.81,-7.25 M40.25,-12.88 L40.25,-13.69 L41.05,-15.30 L41.86,-16.10 L43.47,-16.91 L46.69,-16.91 L48.30,-16.10 L49.11,-15.30 L49.91,-13.69 L49.91,-12.08 L49.11,-10.46 L47.50,-8.05 L39.45,0.00 L50.72,0.00 M76.48,-16.91 L68.43,-5.64 L80.50,-5.64 M76.48,-16.91 L76.48,0.00 M88.55,-16.91 L86.14,-16.10 L85.33,-14.49 L85.33,-12.88 L86.14,-11.27 L87.75,-10.46 L90.97,-9.66 L93.38,-8.86 L94.99,-7.25 L95.80,-5.64 L95.80,-3.22 L94.99,-1.61 L94.19,-0.81 L91.77,0.00 L88.55,0.00 L86.14,-0.81 L85.33,-1.61 L84.53,-3.22 L84.53,-5.64 L85.33,-7.25 L86.94,-8.86 L89.36,-9.66 L92.58,-10.46 L94.19,-11.27 L94.99,-12.88 L94.99,-14.49 L94.19,-16.10 L91.77,-16.91 L88.55,-16.91 M114.31,-20.12 L99.82,5.64 M119.95,-13.69 L122.36,-14.49 L124.78,-16.91 L124.78,0.00 M119.95,0.00 L129.61,0.00 M135.24,-12.88 L135.24,-13.69 L136.05,-15.30 L136.85,-16.10 L138.46,-16.91 L141.68,-16.91 L143.29,-16.10 L144.09,-15.30 L144.90,-13.69 L144.90,-12.08 L144.09,-10.46 L142.49,-8.05 L134.44,0.00 L145.71,0.00 M154.56,-16.91 L152.15,-16.10 L151.34,-14.49 L151.34,-12.88 L152.15,-11.27 L153.75,-10.46 L156.97,-9.66 L159.39,-8.86 L161.00,-7.25 L161.81,-5.64 L161.81,-3.22 L161.00,-1.61 L160.19,-0.81 L157.78,0.00 L154.56,0.00 L152.15,-0.81 L151.34,-1.61 L150.53,-3.22 L150.53,-5.64 L151.34,-7.25 L152.95,-8.86 L155.37,-9.66 L158.59,-10.46 L160.19,-11.27 L161.00,-12.88 L161.00,-14.49 L160.19,-16.10 L157.78,-16.91 L154.56,-16.91 M167.44,-16.91 L167.44,0.00 M175.49,-11.27 L167.44,-3.22 M170.66,-6.44 L176.29,0.00" transform="translate(326.57 228.90) scale(1.03849 1)" fill="none" stroke="#f6f6f6" stroke-width="3.7" stroke-linecap="round" stroke-linejoin="round"/>
<path d="M3.22,-12.88 L3.22,-13.69 L4.03,-15.30 L4.83,-16.10 L6.44,-16.91 L9.66,-16.91 L11.27,-16.10 L12.08,-15.30 L12.88,-13.69 L12.88,-12.08 L12.08,-10.46 L10.46,-8.05 L2.42,0.00 L13.69,0.00 M19.32,-7.25 L33.81,-7.25 M41.05,-16.91 L49.91,-16.91 L45.08,-10.46 L47.50,-10.46 L49.11,-9.66 L49.91,-8.86 L50.72,-6.44 L50.72,-4.83 L49.91,-2.42 L48.30,-0.81 L45.89,0.00 L43.47,0.00 L41.05,-0.81 L40.25,-1.61 L39.45,-3.22 M69.23,-12.88 L69.23,-13.69 L70.04,-15.30 L70.84,-16.10 L72.45,-16.91 L75.67,-16.91 L77.28,-16.10 L78.09,-15.30 L78.89,-13.69 L78.89,-12.08 L78.09,-10.46 L76.48,-8.05 L68.43,0.00 L79.70,0.00 M94.19,-16.91 L86.14,-16.91 L85.33,-9.66 L86.14,-10.46 L88.55,-11.27 L90.97,-11.27 L93.38,-10.46 L94.99,-8.86 L95.80,-6.44 L95.80,-4.83 L94.99,-2.42 L93.38,-0.81 L90.97,0.00 L88.55,0.00 L86.14,-0.81 L85.33,-1.61 L84.53,-3.22 M111.09,-14.49 L110.29,-16.10 L107.87,-16.91 L106.26,-16.91 L103.85,-16.10 L102.24,-13.69 L101.43,-9.66 L101.43,-5.64 L102.24,-2.42 L103.85,-0.81 L106.26,0.00 L107.07,0.00 L109.48,-0.81 L111.09,-2.42 L111.90,-4.83 L111.90,-5.64 L111.09,-8.05 L109.48,-9.66 L107.07,-10.46 L106.26,-10.46 L103.85,-9.66 L102.24,-8.05 L101.43,-5.64 M117.53,-16.91 L117.53,0.00 M125.58,-11.27 L117.53,-3.22 M120.75,-6.44 L126.39,0.00" transform="translate(353.86 256.70) scale(1.03089 1)" fill="none" stroke="#f6f6f6" stroke-width="3.7" stroke-linecap="round" stroke-linejoin="round"/>
<path d="M9.12,-15.96 L9.12,-3.80 L8.36,-1.52 L7.60,-0.76 L6.08,0.00 L4.56,0.00 L3.04,-0.76 L2.28,-1.52 L1.52,-3.80 L1.52,-5.32 M15.20,0.00 L15.20,-15.96 L22.04,-15.96 L24.32,-15.20 L25.08,-14.44 L25.84,-12.92 L25.84,-10.64 L25.08,-9.12 L24.32,-8.36 L22.04,-7.60 L15.20,-7.60 M31.92,-12.92 L34.20,-13.68 L36.48,-15.96 L36.48,0.00 M31.92,0.00 L41.04,0.00 M47.12,-12.92 L49.40,-13.68 L51.68,-15.96 L51.68,0.00 M47.12,0.00 L56.24,0.00" transform="translate(441.61 287.80) scale(1.04349 1)" fill="none" stroke="#f6f6f6" stroke-width="3.4" stroke-linecap="round" stroke-linejoin="round"/>
<path d="M0.76,-15.96 L6.84,0.00 L12.92,-15.96 M25.84,-13.68 L25.08,-15.20 L22.80,-15.96 L21.28,-15.96 L19.00,-15.20 L17.48,-12.92 L16.72,-9.12 L16.72,-5.32 L17.48,-2.28 L19.00,-0.76 L21.28,0.00 L22.04,0.00 L24.32,-0.76 L25.84,-2.28 L26.60,-4.56 L26.60,-5.32 L25.84,-7.60 L24.32,-9.12 L22.04,-9.88 L21.28,-9.88 L19.00,-9.12 L17.48,-7.60 L16.72,-5.32" transform="translate(405.95 332.00) scale(0.990712 1)" fill="none" stroke="#f6f6f6" stroke-width="3.4" stroke-linecap="round" stroke-linejoin="round"/>
<path d="M0.76,-15.96 L6.84,0.00 L12.92,-15.96 M20.52,-15.96 L18.24,-15.20 L16.72,-12.92 L15.96,-9.12 L15.96,-6.84 L16.72,-3.04 L18.24,-0.76 L20.52,0.00 L22.04,0.00 L24.32,-0.76 L25.84,-3.04 L26.60,-6.84 L26.60,-9.12 L25.84,-12.92 L24.32,-15.20 L22.04,-15.96 L20.52,-15.96" transform="translate(405.64 412.90) scale(1.00232 1)" fill="none" stroke="#f6f6f6" stroke-width="3.4" stroke-linecap="round" stroke-linejoin="round"/>
<path d="M9.12,-15.96 L9.12,-3.80 L8.36,-1.52 L7.60,-0.76 L6.08,0.00 L4.56,0.00 L3.04,-0.76 L2.28,-1.52 L1.52,-3.80 L1.52,-5.32 M15.20,0.00 L15.20,-15.96 L22.04,-15.96 L24.32,-15.20 L25.08,-14.44 L25.84,-12.92 L25.84,-10.64 L25.08,-9.12 L24.32,-8.36 L22.04,-7.60 L15.20,-7.60 M31.92,-12.92 L34.20,-13.68 L36.48,-15.96 L36.48,0.00 M31.92,0.00 L41.04,0.00 M50.16,-15.96 L47.88,-15.20 L46.36,-12.92 L45.60,-9.12 L45.60,-6.84 L46.36,-3.04 L47.88,-0.76 L50.16,0.00 L51.68,0.00 L53.96,-0.76 L55.48,-3.04 L56.24,-6.84 L56.24,-9.12 L55.48,-12.92 L53.96,-15.20 L51.68,-15.96 L50.16,-15.96" transform="translate(493.83 454.20) scale(1.0307 1)" fill="none" stroke="#f6f6f6" stroke-width="3.4" stroke-linecap="round" stroke-linejoin="round"/>
<path d="M4.28,0.00 L4.28,-22.47 L13.91,-22.47 L17.12,-21.40 L18.19,-20.33 L19.26,-18.19 L19.26,-16.05 L18.19,-13.91 L17.12,-12.84 L13.91,-11.77 L4.28,-11.77 M11.77,-11.77 L19.26,0.00 M27.82,-18.19 L31.03,-19.26 L34.24,-22.47 L34.24,0.00 M27.82,0.00 L40.66,0.00 M49.22,-18.19 L52.43,-19.26 L55.64,-22.47 L55.64,0.00 M49.22,0.00 L62.06,0.00" transform="translate(321.27 652.70) scale(0.988231 1)" fill="none" stroke="#f6f6f6" stroke-width="5.2" stroke-linecap="round" stroke-linejoin="round"/>
<path d="M4.28,-17.12 L4.28,-18.19 L5.35,-20.33 L6.42,-21.40 L8.56,-22.47 L12.84,-22.47 L14.98,-21.40 L16.05,-20.33 L17.12,-18.19 L17.12,-16.05 L16.05,-13.91 L13.91,-10.70 L3.21,0.00 L18.19,0.00 M25.68,-22.47 L25.68,0.00 M40.66,-22.47 L25.68,-7.49 M31.03,-12.84 L40.66,0.00" transform="translate(310.62 729.00) scale(0.929239 1)" fill="none" stroke="#f6f6f6" stroke-width="5.2" stroke-linecap="round" stroke-linejoin="round"/>
<path d="M4.28,0.00 L4.28,-22.47 L13.91,-22.47 L17.12,-21.40 L18.19,-20.33 L19.26,-18.19 L19.26,-16.05 L18.19,-13.91 L17.12,-12.84 L13.91,-11.77 L4.28,-11.77 M11.77,-11.77 L19.26,0.00 M27.82,-18.19 L31.03,-19.26 L34.24,-22.47 L34.24,0.00 M27.82,0.00 L40.66,0.00 M53.50,-22.47 L50.29,-21.40 L48.15,-18.19 L47.08,-12.84 L47.08,-9.63 L48.15,-4.28 L50.29,-1.07 L53.50,0.00 L55.64,0.00 L58.85,-1.07 L60.99,-4.28 L62.06,-9.63 L62.06,-12.84 L60.99,-18.19 L58.85,-21.40 L55.64,-22.47 L53.50,-22.47" transform="translate(432.32 728.50) scale(1.00035 1)" fill="none" stroke="#f6f6f6" stroke-width="5.2" stroke-linecap="round" stroke-linejoin="round"/>
<rect x="437.8" y="291.9" width="119.1" height="58.4" rx="20.5" fill="#1b3528" stroke="#f6f6f6" stroke-width="3.2"/>
<rect x="443.9" y="299.2" width="106.6" height="43.8" rx="14" fill="#fffc46"/>
<rect x="476" y="299.2" width="6.5" height="43.8" fill="#3a2322"/>
<rect x="512.2" y="299.2" width="6.5" height="43.8" fill="#3a2322"/>
<circle cx="459.8" cy="321.3" r="3.6" fill="#0b0902"/>
<circle cx="535.2" cy="321.3" r="3.6" fill="#0b0902"/>
<rect x="437.8" y="373.6" width="119.1" height="58.4" rx="20.5" fill="#1b3528" stroke="#f6f6f6" stroke-width="3.2"/>
<rect x="443.9" y="380.9" width="106.6" height="43.8" rx="14" fill="#fffc46"/>
<rect x="476" y="380.9" width="6.5" height="43.8" fill="#3a2322"/>
<rect x="512.2" y="380.9" width="6.5" height="43.8" fill="#3a2322"/>
<circle cx="535.2" cy="403" r="3.6" fill="#0b0902"/>
<path d="M462,356 L453,364.2 L471,364.2Z" fill="none" stroke="#f6f6f6" stroke-width="2.4" stroke-linecap="round" stroke-linejoin="round"/>
<path d="M462,437.9 L453,446.8 L471,446.8Z" fill="none" stroke="#f6f6f6" stroke-width="2.4" stroke-linecap="round" stroke-linejoin="round"/>
<circle cx="463" cy="438.3" r="4.5" fill="#e8e020"/><circle cx="463" cy="438.3" r="3.7" fill="#0b0902"/>
<circle cx="404.8" cy="679.2" r="27.6" fill="none" stroke="#f6f6f6" stroke-width="3.2"/>
<path d="M360.5,679.4 L376.5,679.4" fill="none" stroke="#f6f6f6" stroke-width="2.8" stroke-linecap="round" stroke-linejoin="round"/>
</g>
<g>
<circle cx="36" cy="162" r="11.4" fill="url(#g1)"/><circle cx="53.6" cy="169.4" r="9.804" fill="#a9a9c6" clip-path="url(#h1)"/>
<circle cx="110" cy="162" r="11.4" fill="url(#g2)"/><circle cx="125.75" cy="169.4" r="9.804" fill="#a9a9c6" clip-path="url(#h2)"/>
<circle cx="184" cy="162" r="11.4" fill="url(#g3)"/><circle cx="197.9" cy="169.4" r="9.804" fill="#a9a9c6" clip-path="url(#h3)"/>
<circle cx="258" cy="162" r="11.4" fill="url(#g4)"/><circle cx="270.05" cy="169.4" r="9.804" fill="#a9a9c6" clip-path="url(#h4)"/>
<circle cx="35.5" cy="680" r="11.4" fill="url(#g5)"/><circle cx="53.1125" cy="674.45" r="9.804" fill="#a9a9c6" clip-path="url(#h5)"/>
<circle cx="110" cy="680" r="11.4" fill="url(#g6)"/><circle cx="125.75" cy="674.45" r="9.804" fill="#a9a9c6" clip-path="url(#h6)"/>
<circle cx="184" cy="680" r="11.4" fill="url(#g7)"/><circle cx="197.9" cy="674.45" r="9.804" fill="#a9a9c6" clip-path="url(#h7)"/>
<circle cx="258" cy="680" r="11.4" fill="url(#g8)"/><circle cx="270.05" cy="674.45" r="9.804" fill="#a9a9c6" clip-path="url(#h8)"/>
<circle cx="627.7" cy="14.3" r="11.4" fill="url(#g9)"/><circle cx="630.508" cy="25.3925" r="9.804" fill="#a9a9c6" clip-path="url(#h9)"/>
<circle cx="701.5" cy="14.3" r="11.4" fill="url(#g10)"/><circle cx="702.462" cy="25.3925" r="9.804" fill="#a9a9c6" clip-path="url(#h10)"/>
<circle cx="775.3" cy="14.3" r="11.4" fill="url(#g11)"/><circle cx="774.417" cy="25.3925" r="9.804" fill="#a9a9c6" clip-path="url(#h11)"/>
<circle cx="849" cy="14.3" r="11.4" fill="url(#g12)"/><circle cx="846.275" cy="25.3925" r="9.804" fill="#a9a9c6" clip-path="url(#h12)"/>
<circle cx="627.7" cy="125.5" r="11.4" fill="url(#g13)"/><circle cx="630.508" cy="133.812" r="9.804" fill="#a9a9c6" clip-path="url(#h13)"/>
<circle cx="701.5" cy="125.5" r="11.4" fill="url(#g14)"/><circle cx="702.462" cy="133.812" r="9.804" fill="#a9a9c6" clip-path="url(#h14)"/>
<circle cx="775.3" cy="125.5" r="11.4" fill="url(#g15)"/><circle cx="774.417" cy="133.812" r="9.804" fill="#a9a9c6" clip-path="url(#h15)"/>
<circle cx="849" cy="125.5" r="11.4" fill="url(#g16)"/><circle cx="846.275" cy="133.812" r="9.804" fill="#a9a9c6" clip-path="url(#h16)"/>
<circle cx="627.7" cy="347.4" r="11.4" fill="url(#g17)"/><circle cx="630.508" cy="350.165" r="9.804" fill="#a9a9c6" clip-path="url(#h17)"/>
<circle cx="701.5" cy="347.4" r="11.4" fill="url(#g18)"/><circle cx="702.462" cy="350.165" r="9.804" fill="#a9a9c6" clip-path="url(#h18)"/>
<circle cx="775.3" cy="347.4" r="11.4" fill="url(#g19)"/><circle cx="774.417" cy="350.165" r="9.804" fill="#a9a9c6" clip-path="url(#h19)"/>
<circle cx="849" cy="347.4" r="11.4" fill="url(#g20)"/><circle cx="846.275" cy="350.165" r="9.804" fill="#a9a9c6" clip-path="url(#h20)"/>
<circle cx="627.7" cy="457.7" r="11.4" fill="url(#g21)"/><circle cx="630.508" cy="457.707" r="9.804" fill="#a9a9c6" clip-path="url(#h21)"/>
<circle cx="701.5" cy="457.7" r="11.4" fill="#0b0902"/><circle cx="702.462" cy="457.707" r="9.804" fill="#a9a9c6" clip-path="url(#h22)"/>
<circle cx="775.3" cy="457.7" r="11.4" fill="#0b0902"/><circle cx="774.417" cy="457.707" r="9.804" fill="#a9a9c6" clip-path="url(#h23)"/>
<circle cx="849" cy="457.7" r="11.4" fill="url(#g24)"/><circle cx="846.275" cy="457.707" r="9.804" fill="#a9a9c6" clip-path="url(#h24)"/>
<circle cx="627.7" cy="679" r="11.4" fill="url(#g25)"/><circle cx="630.508" cy="673.475" r="9.804" fill="#a9a9c6" clip-path="url(#h25)"/>
<circle cx="701.5" cy="679" r="11.4" fill="url(#g26)"/><circle cx="702.462" cy="673.475" r="9.804" fill="#a9a9c6" clip-path="url(#h26)"/>
<circle cx="775.3" cy="679" r="11.4" fill="url(#g27)"/><circle cx="774.417" cy="673.475" r="9.804" fill="#a9a9c6" clip-path="url(#h27)"/>
<circle cx="849" cy="679" r="11.4" fill="url(#g28)"/><circle cx="846.275" cy="673.475" r="9.804" fill="#a9a9c6" clip-path="url(#h28)"/>
<circle cx="156" cy="3" r="4.6" fill="#e8e020"/><circle cx="156" cy="3" r="3.7" fill="#0b0902"/><circle cx="170.6" cy="14.375" r="3.182" fill="#a9a9c6" clip-path="url(#h29)"/>
<circle cx="135" cy="26.5" r="4.6" fill="#e8e020"/><circle cx="135" cy="26.5" r="3.7" fill="#0b0902"/><circle cx="150.125" cy="37.2875" r="3.182" fill="#a9a9c6" clip-path="url(#h30)"/>
<circle cx="146" cy="63.2" r="4.6" fill="#e8e020"/><circle cx="146" cy="63.2" r="3.7" fill="#0b0902"/><circle cx="160.85" cy="73.07" r="3.182" fill="#a9a9c6" clip-path="url(#h31)"/>
<circle cx="405.9" cy="162.1" r="9.3" fill="#e8e020"/><circle cx="405.9" cy="162.1" r="8.4" fill="url(#g32)"/><circle cx="414.252" cy="169.498" r="7.224" fill="#a9a9c6" clip-path="url(#h32)"/>
<circle cx="440" cy="105.4" r="4.6" fill="#e8e020"/><circle cx="440" cy="105.4" r="3.7" fill="#0b0902"/><circle cx="447.5" cy="114.215" r="3.182" fill="#a9a9c6" clip-path="url(#h33)"/>
<circle cx="304.4" cy="181.8" r="4.6" fill="#e8e020"/><circle cx="304.4" cy="181.8" r="3.7" fill="#0b0902"/><circle cx="315.29" cy="188.705" r="3.182" fill="#a9a9c6" clip-path="url(#h34)"/>
<circle cx="371.6" cy="206.2" r="4.6" fill="#e8e020"/><circle cx="371.6" cy="206.2" r="3.7" fill="#0b0902"/><circle cx="380.81" cy="212.495" r="3.182" fill="#a9a9c6" clip-path="url(#h35)"/>
<circle cx="449.7" cy="479.4" r="4.6" fill="#e8e020"/><circle cx="449.7" cy="479.4" r="3.7" fill="#0b0902"/><circle cx="456.957" cy="478.865" r="3.182" fill="#a9a9c6" clip-path="url(#h36)"/>
<circle cx="480.6" cy="506.1" r="4.6" fill="#e8e020"/><circle cx="480.6" cy="506.1" r="3.7" fill="#0b0902"/><circle cx="487.085" cy="504.898" r="3.182" fill="#a9a9c6" clip-path="url(#h37)"/>
<circle cx="59.3" cy="594.6" r="4.6" fill="#e8e020"/><circle cx="59.3" cy="594.6" r="3.7" fill="#0b0902"/><circle cx="76.3175" cy="591.185" r="3.182" fill="#a9a9c6" clip-path="url(#h38)"/>
<circle cx="26.7" cy="633.3" r="4.6" fill="#e8e020"/><circle cx="26.7" cy="633.3" r="3.7" fill="#0b0902"/><circle cx="44.5325" cy="628.917" r="3.182" fill="#a9a9c6" clip-path="url(#h39)"/>
<circle cx="440.5" cy="614.4" r="4.6" fill="#e8e020"/><circle cx="440.5" cy="614.4" r="3.7" fill="#0b0902"/><circle cx="447.988" cy="610.49" r="3.182" fill="#a9a9c6" clip-path="url(#h40)"/>
<circle cx="361.8" cy="402.8" r="4.6" fill="#e8e020"/><circle cx="361.8" cy="402.8" r="3.7" fill="#0b0902"/><circle cx="371.255" cy="404.18" r="3.182" fill="#a9a9c6" clip-path="url(#h41)"/>
<circle cx="371.5" cy="443.3" r="4.6" fill="#e8e020"/><circle cx="371.5" cy="443.3" r="3.7" fill="#0b0902"/><circle cx="380.712" cy="443.668" r="3.182" fill="#a9a9c6" clip-path="url(#h42)"/>
<circle cx="463" cy="438.3" r="4.6" fill="#e8e020"/><circle cx="463" cy="438.3" r="3.7" fill="#0b0902"/><circle cx="469.925" cy="438.793" r="3.182" fill="#a9a9c6" clip-path="url(#h43)"/>
<circle cx="405.8" cy="457.5" r="9.3" fill="#e8e020"/><circle cx="405.8" cy="457.5" r="8.4" fill="url(#g44)"/><circle cx="414.155" cy="457.512" r="7.224" fill="#a9a9c6" clip-path="url(#h44)"/>
<circle cx="580.8" cy="477.7" r="4.6" fill="#e8e020"/><circle cx="580.8" cy="477.7" r="3.7" fill="#0b0902"/><circle cx="584.78" cy="477.207" r="3.182" fill="#a9a9c6" clip-path="url(#h45)"/>
<circle cx="36" cy="233" r="4.4" fill="#e8e020"/><circle cx="36" cy="233" r="3.5" fill="#0b0902"/><circle cx="53.6" cy="238.625" r="3.01" fill="#a9a9c6" clip-path="url(#h46)"/>
<circle cx="257.6" cy="233.4" r="4.4" fill="#e8e020"/><circle cx="257.6" cy="233.4" r="3.5" fill="#0b0902"/><circle cx="269.66" cy="239.015" r="3.01" fill="#a9a9c6" clip-path="url(#h47)"/>
<circle cx="342.5" cy="85" r="4.4" fill="#e8e020"/><circle cx="342.5" cy="85" r="3.5" fill="#0b0902"/><circle cx="352.438" cy="94.325" r="3.01" fill="#a9a9c6" clip-path="url(#h48)"/>
<circle cx="667.9" cy="85.5" r="4.4" fill="#e8e020"/><circle cx="667.9" cy="85.5" r="3.5" fill="#0b0902"/><circle cx="669.702" cy="94.8125" r="3.01" fill="#a9a9c6" clip-path="url(#h49)"/>
<circle cx="775.3" cy="74" r="4.4" fill="#e8e020"/><circle cx="775.3" cy="74" r="3.5" fill="#0b0902"/><circle cx="774.417" cy="83.6" r="3.01" fill="#a9a9c6" clip-path="url(#h50)"/>
<circle cx="849.5" cy="70.6" r="4.4" fill="#e8e020"/><circle cx="849.5" cy="70.6" r="3.5" fill="#0b0902"/><circle cx="846.763" cy="80.285" r="3.01" fill="#a9a9c6" clip-path="url(#h51)"/>
<circle cx="698" cy="277.5" r="4.4" fill="#e8e020"/><circle cx="698" cy="277.5" r="3.5" fill="#0b0902"/><circle cx="699.05" cy="282.012" r="3.01" fill="#a9a9c6" clip-path="url(#h52)"/>
<circle cx="775.5" cy="281.3" r="4.4" fill="#e8e020"/><circle cx="775.5" cy="281.3" r="3.5" fill="#0b0902"/><circle cx="774.612" cy="285.718" r="3.01" fill="#a9a9c6" clip-path="url(#h53)"/>
<circle cx="852.5" cy="277.5" r="4.4" fill="#e8e020"/><circle cx="852.5" cy="277.5" r="3.5" fill="#0b0902"/><circle cx="849.688" cy="282.012" r="3.01" fill="#a9a9c6" clip-path="url(#h54)"/>
<circle cx="627.8" cy="310.4" r="4.4" fill="#e8e020"/><circle cx="627.8" cy="310.4" r="3.5" fill="#0b0902"/><circle cx="630.605" cy="314.09" r="3.01" fill="#a9a9c6" clip-path="url(#h55)"/>
<circle cx="627.7" cy="407" r="4.4" fill="#e8e020"/><circle cx="627.7" cy="407" r="3.5" fill="#0b0902"/><circle cx="630.508" cy="408.275" r="3.01" fill="#a9a9c6" clip-path="url(#h56)"/>
<circle cx="779.4" cy="403" r="4.4" fill="#e8e020"/><circle cx="779.4" cy="403" r="3.5" fill="#0b0902"/><circle cx="778.415" cy="404.375" r="3.01" fill="#a9a9c6" clip-path="url(#h57)"/>
<circle cx="849" cy="399.4" r="4.4" fill="#e8e020"/><circle cx="849" cy="399.4" r="3.5" fill="#0b0902"/><circle cx="846.275" cy="400.865" r="3.01" fill="#a9a9c6" clip-path="url(#h58)"/>
<circle cx="39.8" cy="562.2" r="4.4" fill="#e8e020"/><circle cx="39.8" cy="562.2" r="3.5" fill="#0b0902"/><circle cx="57.305" cy="559.595" r="3.01" fill="#a9a9c6" clip-path="url(#h59)"/>
<circle cx="258" cy="565.8" r="4.4" fill="#e8e020"/><circle cx="258" cy="565.8" r="3.5" fill="#0b0902"/><circle cx="270.05" cy="563.105" r="3.01" fill="#a9a9c6" clip-path="url(#h60)"/>
<circle cx="627.7" cy="643.3" r="4.4" fill="#e8e020"/><circle cx="627.7" cy="643.3" r="3.5" fill="#0b0902"/><circle cx="630.508" cy="638.667" r="3.01" fill="#a9a9c6" clip-path="url(#h61)"/>
<circle cx="709.2" cy="565.7" r="4.4" fill="#e8e020"/><circle cx="709.2" cy="565.7" r="3.5" fill="#0b0902"/><circle cx="709.97" cy="563.008" r="3.01" fill="#a9a9c6" clip-path="url(#h62)"/>
<circle cx="775.2" cy="528.6" r="4.4" fill="#e8e020"/><circle cx="775.2" cy="528.6" r="3.5" fill="#0b0902"/><circle cx="774.32" cy="526.835" r="3.01" fill="#a9a9c6" clip-path="url(#h63)"/>
<circle cx="849.4" cy="528.6" r="4.4" fill="#e8e020"/><circle cx="849.4" cy="528.6" r="3.5" fill="#0b0902"/><circle cx="846.665" cy="526.835" r="3.01" fill="#a9a9c6" clip-path="url(#h64)"/>
<circle cx="331.3" cy="679.2" r="9" fill="url(#g65)"/><circle cx="341.518" cy="673.67" r="7.74" fill="#a9a9c6" clip-path="url(#h65)"/>
<circle cx="404.8" cy="679.2" r="9" fill="url(#g66)"/><circle cx="413.18" cy="673.67" r="7.74" fill="#a9a9c6" clip-path="url(#h66)"/>
</g>
<g fill="none" stroke="#fffc46" stroke-linecap="round" stroke-linejoin="round">
<path d="M-2,243 L5,241.5 C11,248 20,270 25.3,287.3 L32,312.6" stroke-width="3.6"/>
<path d="M32,312.6 L79,292.8 C95,289 112,303 115,322 C116,330 114,336 110,337.5 C102,337 96,328 92,315" stroke-width="3.8"/>
<path d="M92,315 C91,322 89,328 84,330 C78,331 73,326 74,320 C75,316 78,314 81,313" stroke-width="3.2"/>
<path d="M74,330.5 C78,336 88,338 96,335.5 L104,337" stroke-width="3.2"/>
<path d="M74,331 C62,337 50,341 38.7,343 L40.4,364" stroke-width="3.4"/>
<path d="M42,350.6 L54,352 C62,356 67,362 67,368 C68,376 64,390 54,403.7 C58,405 61,408 60,411 C59,416 53,421 47,422 C40,423 30,420 25,414.6" stroke-width="3.4"/>
<path d="M-8,262.5 C6,265 12,274 11.5,281 C11,290 5,296.5 -6,299.5" stroke-width="4"/>
<path d="M42,307.2 L74,294" stroke-width="3"/>
<path d="M65,275.5 L74,273" stroke-width="2.4"/>
<path d="M60.6,286.5 C68,284 76,283 82.5,283" stroke-width="2.6"/>
<path d="M37,388.5 L30,405 C26,410 17,414 -2,419" stroke-width="4"/>
<path d="M17,417 L23.5,426.4" stroke-width="3.2"/>
<path d="M-2,425.5 L10,429" stroke-width="3.2"/>
<path d="M40.4,410.4 L41,418.8" stroke-width="2.2"/>
<path d="M47,409.5 L50.5,418" stroke-width="2.2"/>
<path d="M82.3,399 C95,392 120,388 149,387.8 C170,388 190,391 201.4,395.6 L217,432.4 C200,440 170,447 138,448 C110,448 85,443 65.6,431 Z" stroke-width="3.4"/>
<path d="M65.6,431 C85,443 110,448 138,448 C170,447 200,440 217,432.4" stroke-width="4.4"/>
<path d="M101,394.5 C102,400 106,404 111,404.5 C125,406.5 160,407 175.8,403.4 C181,402 184,400 184.7,397.8" stroke-width="3"/>
<path d="M82,401.5 C90,405 98,408 104.5,409 C120,411 165,411 184.7,406.7 C192,405 198,402 201.4,399" stroke-width="3"/>
<path d="M74,415 L83,419" stroke-width="2.2"/>
<path d="M72,421 L82,425" stroke-width="2.2"/>
<path d="M71,427 L80,431" stroke-width="2.2"/>
<path d="M88,397 L90,403" stroke-width="1.8"/>
<path d="M93,395 L95.5,402" stroke-width="1.8"/>
<path d="M98,393.5 L100,401" stroke-width="1.8"/>
<path d="M190,396 L191,401" stroke-width="1.6"/>
<path d="M194,396.5 L195,401" stroke-width="1.6"/>
<ellipse cx="62.6" cy="454.2" rx="5.6" ry="3.4" stroke-width="2"/>
<ellipse cx="91.4" cy="454.5" rx="4.2" ry="2.4" stroke-width="2"/>
<path d="M178,448 L194.7,453.5" stroke-width="2"/>
<path d="M191.4,444.6 L212.6,453.5" stroke-width="2"/>
<path d="M224,444 L230,446.5" stroke-width="3.4"/>
<path d="M70,612 C90,570 80,510 60,466 M25,486 L107,430 M95,440 L166,552 M205,330 C160,345 150,420 175,465 C200,510 270,500 292,440 C310,390 280,315 205,330 M297,327 L443,386 M378,427 C400,390 450,310 493,255 M388,264 L410,350 M485,257 C495,290 515,330 530,337 C545,310 565,240 572,196 M560,178 L626,286 M583,178 L700,96 M640,140 L702,242 M710,56 L795,202 M755,142 C790,95 850,70 850,115 C850,150 820,185 795,202" transform="translate(143 240) scale(0.144766)" stroke-width="15.1969"/>
<path d="M150,428 C130,400 95,420 92,490 C90,560 120,615 150,608 C175,600 190,565 195,535 M195,382 L302,557 M248,470 L305,432 M352,322 C315,335 300,400 320,450 C340,495 395,495 415,440 C430,395 405,320 352,322 M375,160 C420,130 500,140 535,200 C565,260 565,340 525,390 C495,420 455,395 447,340 C440,280 470,225 515,222 M560,132 L665,332 M610,252 C650,200 735,170 745,215 C750,250 700,310 665,332 M700,72 L815,238" transform="translate(205 280) scale(0.105791)" stroke-width="20.7957"/>
<path d="M128,203 C125,240 135,300 150,315 C170,300 200,240 215,195 C210,240 213,295 226,314 M302,277 C315,256 345,254 351,268 C352,284 312,290 305,304 C312,318 350,315 368,300 M400,196 C430,180 456,200 456,240 C456,280 451,300 447,313 M452,262 C420,250 380,275 385,300 C395,325 440,315 451,288 M470,285 C500,286 532,270 521,250 C505,235 470,258 470,290 C475,320 520,316 540,295 M575,216 C585,190 626,190 622,220 C618,246 590,255 592,282 M597,303 L598,305" transform="translate(60 370) scale(0.222717)" stroke-width="11.225"/>
</g>
</svg>
</body></html>
